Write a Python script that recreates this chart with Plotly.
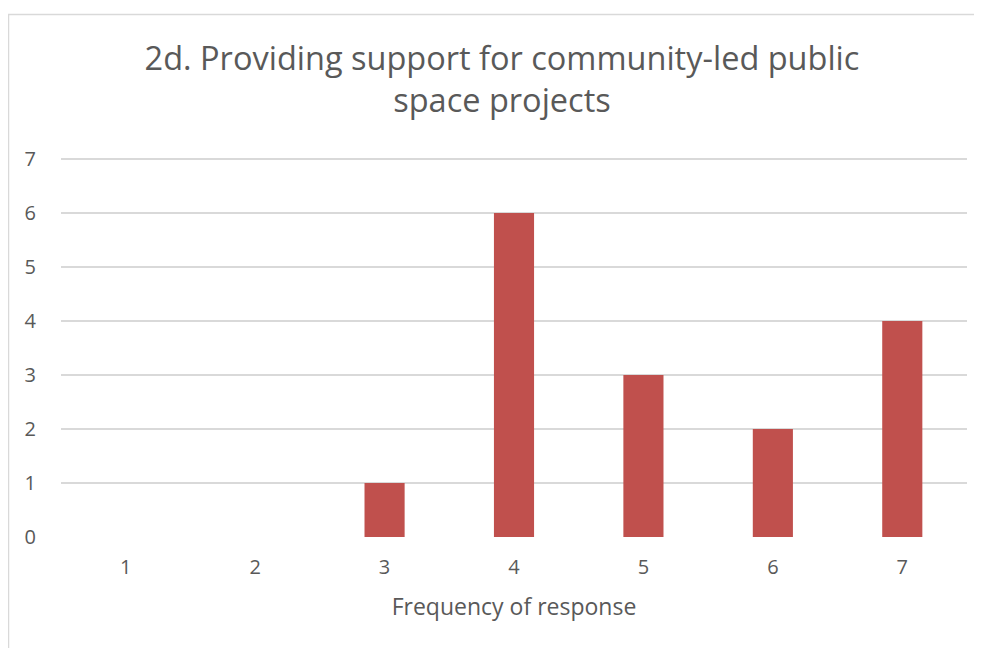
import plotly.graph_objects as go

categories = ["1", "2", "3", "4", "5", "6", "7"]
counts = [0, 0, 1, 6, 3, 2, 4]
y_ticks = [0, 1, 2, 3, 4, 5, 6, 7]

title_text = "2d. Providing support for community-led public<br>space projects"
x_title = "Frequency of response"

# page body has an 8px margin, so the figure is sized to fill the remaining window
OFF = 8
W, H = 982 - OFF, 648 - OFF
ml, mr, mt, mb = 61 - OFF, 15, 158 - OFF, 111
pw = W - ml - mr
ph = H - mt - mb

fig = go.Figure(go.Bar(
    x=categories, y=counts,
    marker=dict(color="#C0504D", line=dict(width=0)),
))

def px_to_paper_x(p):
    return (p - OFF - ml) / pw

def px_to_paper_y(p):
    return (H - mb - (p - OFF)) / ph

fig.add_shape(type="rect", xref="paper", yref="paper",
              x0=px_to_paper_x(8.5), x1=px_to_paper_x(995),
              y0=px_to_paper_y(670), y1=px_to_paper_y(14.5),
              line=dict(color="#D9D9D9", width=1.5), fillcolor="rgba(0,0,0,0)", layer="below")

fig.update_layout(
    width=W, height=H,
    margin=dict(l=ml, r=mr, t=mt, b=mb),
    paper_bgcolor="white", plot_bgcolor="white",
    bargap=0.69,
    showlegend=False,
    font=dict(family="Open Sans", color="#595959"),
    title=dict(text=title_text, x=(502 - OFF) / W, xanchor="center", xref="container",
               y=1 - 62 / H, yanchor="top", yref="container",
               font=dict(size=32.5, color="#595959", family="Open Sans")),
    xaxis=dict(type="category", showgrid=False, showline=False, zeroline=False,
               ticks="outside", ticklen=12, tickcolor="rgba(0,0,0,0)",
               tickfont=dict(size=20, color="#595959"),
               title=dict(text=x_title, font=dict(size=23, color="#595959"), standoff=19)),
    yaxis=dict(range=[0, 7.02], tickvals=y_ticks, showgrid=True, gridcolor="#D9D9D9", gridwidth=1.5,
               zeroline=False, showline=False,
               ticks="outside", ticklen=20, tickcolor="rgba(0,0,0,0)",
               tickfont=dict(size=20, color="#595959")),
)

fig.write_html("out.html")
